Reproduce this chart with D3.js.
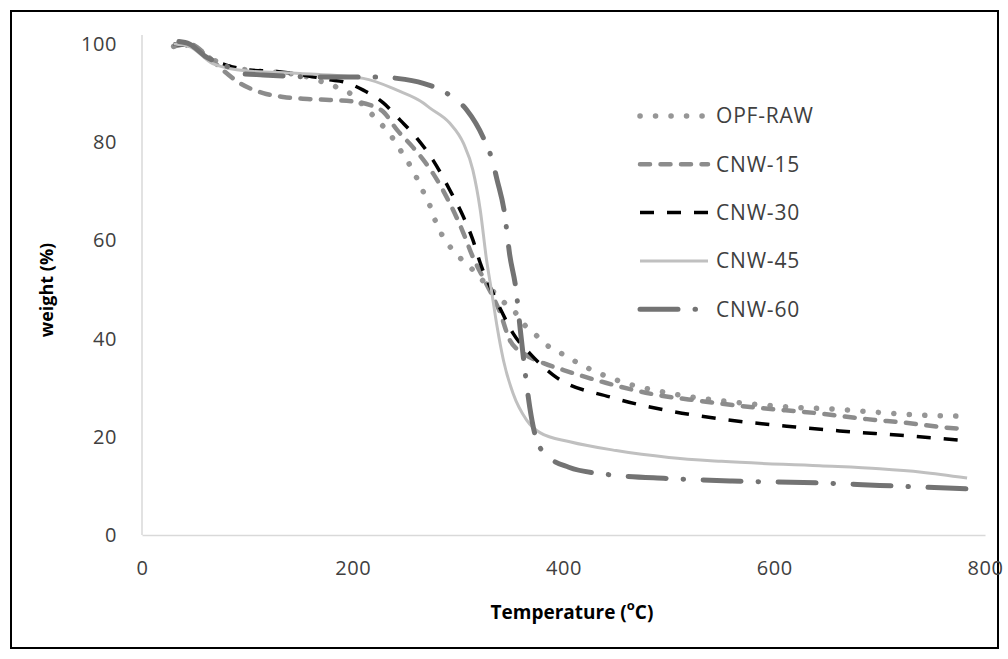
<!DOCTYPE html>
<html>
<head>
<meta charset="utf-8">
<script src="https://cdn.jsdelivr.net/npm/d3@7"></script>
<style>
  body { margin: 0; background: #fff; }
  text { font-family: "Open Sans", sans-serif; fill: #404040; }
  .title { font-weight: bold; fill: #000; }
</style>
</head>
<body>
<div id="chart"></div>
<script>
var width = 1008,
    height = 659;

// temperature (C), weight (%)
var opfRaw = [[30,99.5],[40,100],[55,98.5],[80,95.5],[110,94.5],[140,94],[157,93.3],[171,92.3],[185,91.2],[197,90],
  [210,87.5],[219,85.5],[229,83.2],[238,80.8],[246,78.1],[254,75.4],[261,72.6],[267,69.9],[273,67.2],[278,64.2],
  [284,61.4],[292,58.8],[302,56.4],[313,54.2],[323,51.9],[332,49.9],[343,47.5],[354,45.4],[363,42.8],[374,40.7],
  [384,38.7],[397,37.1],[423,34],[451,31.5],[505,28.7],[574,26.8],[629,25.9],[653,25.7],[697,25],[741,24.4],[778,24.2]];

var cnw15 = [[30,99.5],[45,100],[60,98],[75,95],[93,92],[115,90],[134,89.2],[157,88.8],[178,88.6],[204,88.2],
  [216,87.6],[229,86.2],[242,82.5],[257,79],[267,76.4],[276,73.7],[292,67.6],[305,61.5],[314,56.6],[325,51.9],
  [340,45.2],[349,39.7],[362,37],[381,35],[400,33.6],[440,31],[482,28.8],[530,27.3],[580,26],[641,24.8],
  [688,23.6],[727,22.8],[767,21.8],[783,21.6]];

var cnw30 = [[30,100],[45,99.5],[64,97],[80,95.7],[102,94.7],[128,94.4],[153,93.7],[178,92.7],[191,92.3],[210,90.6],
  [229,88],[245,84.5],[261,80.8],[276,76.4],[292,70.3],[305,64.8],[314,60.1],[321,55.4],[333,49.3],[342,45.2],
  [352,41.1],[368,37],[390,32.6],[446,28],[495,25.5],[554,23.5],[620,22],[662,21.2],[720,20.3],[783,19.2]];

var cnw45 = [[30,100],[45,99.5],[67,96],[100,94.5],[150,94],[210,93],[242,90.6],[267,88],[273,87],[292,83.9],
  [305,79.8],[314,74.3],[321,66.2],[327,56],[332,49.3],[337,42.4],[343,35.6],[352,28.9],[365,23.4],[378,20.8],
  [406,19],[450,17.2],[500,15.8],[550,15],[643,14.1],[700,13.5],[740,12.8],[783,11.6]];

var cnw60 = [[35,100.5],[45,100],[60,97.5],[80,95.5],[93,94],[115,93.7],[166,93.3],[223,93.3],[242,93],[267,92],
  [280,91],[292,89.6],[308,86.6],[325,80.4],[332,76.6],[337,72.3],[344,65.6],[349,57],[355,49.9],[359,41.8],
  [363,34.2],[368,26],[375,19],[386,15.9],[405,13.8],[439,12.4],[500,11.5],[560,11],[643,10.6],[700,10.1],[783,9.4]];

var seriesNames = ["OPF-RAW", "CNW-15", "CNW-30", "CNW-45", "CNW-60"];
var seriesData = [opfRaw, cnw15, cnw30, cnw45, cnw60];
var xTicks = [0, 200, 400, 600, 800];
var yTicks = [0, 20, 40, 60, 80, 100];

var styles = [
  { color: "#969696", w: 5.5, dash: "0.1 15.4", cap: "round" },
  { color: "#8c8c8c", w: 4.5, dash: "10 10.5", cap: "round" },
  { color: "#000000", w: 3.5, dash: "14 13", cap: "butt" },
  { color: "#c0c0c0", w: 3, dash: null, cap: "butt" },
  { color: "#737373", w: 5, dash: "38 17 0.5 19.5", cap: "round" }
];

var x = d3.scaleLinear().domain([0, 800]).range([142, 985]);
var y = d3.scaleLinear().domain([0, 100]).range([535, 44]);

var svg = d3.select("#chart").append("svg")
    .attr("width", width)
    .attr("height", height);

svg.append("rect")
    .attr("x", 11).attr("y", 11)
    .attr("width", 987).attr("height", 637)
    .attr("fill", "none")
    .attr("stroke", "#000")
    .attr("stroke-width", 2);

// axes
var xAxis = d3.axisBottom(x).tickValues(xTicks).tickSize(0).tickPadding(26);
var yAxis = d3.axisLeft(y).tickValues(yTicks).tickSize(0).tickPadding(25);

var gx = svg.append("g").attr("transform", "translate(0," + y(0) + ")").call(xAxis);
var gy = svg.append("g").attr("transform", "translate(" + x(0) + ",0)").call(yAxis);

gx.select(".domain").attr("stroke", "#d9d9d9").attr("stroke-width", 1.5);
gy.select(".domain").attr("d", "M0," + (y(100) - 9) + "V" + y(0))
    .attr("stroke", "#d9d9d9").attr("stroke-width", 1.5);
svg.selectAll(".tick text")
    .style("font-family", "'Open Sans', sans-serif")
    .style("font-size", "20px")
    .style("letter-spacing", "0.6px")
    .attr("fill", "#404040");

// axis titles
var xt = svg.append("text")
    .attr("class", "title")
    .attr("x", 572).attr("y", 619)
    .attr("text-anchor", "middle")
    .style("font-size", "19px")
    .text("Temperature (");
xt.append("tspan").attr("baseline-shift", "super").style("font-size", "13px").text("o");
xt.append("tspan").text("C)");

svg.append("text")
    .attr("class", "title")
    .attr("transform", "translate(53,290) rotate(-90)")
    .attr("text-anchor", "middle")
    .style("font-size", "18px")
    .text("weight (%)");

// lines
var line = d3.line()
    .x(function(d) { return x(d[0]); })
    .y(function(d) { return y(d[1]); })
    .curve(d3.curveMonotoneX);

seriesData.forEach(function(data, i) {
  var s = styles[i];
  svg.append("path")
      .datum(data)
      .attr("d", line)
      .attr("fill", "none")
      .attr("stroke", s.color)
      .attr("stroke-width", s.w)
      .attr("stroke-linecap", s.cap)
      .attr("stroke-dasharray", s.dash);
});

// legend
var legend = svg.append("g");
seriesNames.forEach(function(name, i) {
  var s = styles[i];
  var ly = 116 + i * 48.3;
  legend.append("line")
      .attr("x1", 640).attr("x2", 708)
      .attr("y1", ly).attr("y2", ly)
      .attr("stroke", s.color)
      .attr("stroke-width", s.w)
      .attr("stroke-linecap", s.cap)
      .attr("stroke-dasharray", s.dash);
  legend.append("text")
      .attr("x", 716).attr("y", ly)
      .attr("dy", "0.35em")
      .style("font-size", "21px")
      .style("letter-spacing", "0.8px")
      .text(name);
});
</script>
</body>
</html>
